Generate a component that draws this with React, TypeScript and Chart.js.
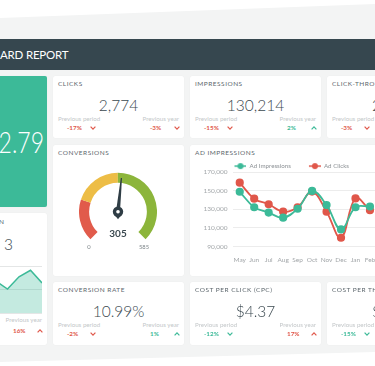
import React, { useEffect, useRef } from "react";
import { Chart, registerables } from "chart.js";

Chart.register(...registerables);

const FONT = "Lato, 'Open Sans', sans-serif";
const TEAL = "#3cba98";
const RED = "#e0574a";
const DARK = "#3b4950";

// ---- Ad impressions line chart ----
const adMonths = ["May", "Jun", "Jul", "Aug", "Sep", "Oct", "Nov", "Dec", "Jan", "Feb"];
const adImpressions = [148800, 132200, 126500, 121000, 130600, 149700, 134500, 108400, 132200, 133000];
const adClicks = [158600, 141400, 135400, 127400, 132200, 149000, 127400, 99500, 141700, 129000];
const adAxisMin = 90000;
const adAxisMax = 170000;
const adAxisStep = 20000;

// ---- Conversions gauge ----
const gaugeBandLabels = ["Low", "Medium", "High"];
const gaugeBands = [137, 155, 293];
const gaugeColors = ["#e15b4b", "#edbd46", "#8cb53b"];
const gaugeValue = 305;
const gaugeMin = 0;
const gaugeMax = 585;

// ---- Small trend (left card) ----
const trendLabels = ["P1", "P2", "P3", "P4", "P5"];
const trendValues = [68, 51, 77, 91, 64];

type Txt = {
  x: number;
  y: number;
  text: string;
  size: number;
  color: string;
  weight?: number;
  align?: "left" | "right" | "center";
  ls?: number;
  sy?: number;
};

function T({ x, y, text, size, color, weight = 400, align = "left", ls = 0, sy = 1 }: Txt) {
  const tx = align === "left" ? "0" : align === "right" ? "-100%" : "-50%";
  return (
    <div
      style={{
        position: "absolute",
        left: x,
        top: y,
        transform: `translate(${tx}, -50%) scaleY(${sy})`,
        fontFamily: FONT,
        fontSize: size,
        fontWeight: weight,
        color,
        letterSpacing: ls,
        lineHeight: 1,
        whiteSpace: "nowrap",
      }}
    >
      {text}
    </div>
  );
}

function Chevron({ x, y, dir, color }: { x: number; y: number; dir: "up" | "down"; color: string }) {
  const pts = dir === "down" ? "0.6,0.7 3,3.2 5.4,0.7" : "0.6,3.3 3,0.8 5.4,3.3";
  return (
    <svg
      width={6}
      height={4}
      style={{ position: "absolute", left: x - 3, top: y - 2, overflow: "visible" }}
    >
      <polyline points={pts} fill="none" stroke={color} strokeWidth={1.2} />
    </svg>
  );
}

type Delta = { pct: string; color: string; dir: "up" | "down" };

function Card({
  x,
  y,
  w,
  h,
  bg = "#ffffff",
  children,
}: {
  x: number;
  y: number;
  w: number;
  h: number;
  bg?: string;
  children?: React.ReactNode;
}) {
  return (
    <div
      style={{
        position: "absolute",
        left: x,
        top: y,
        width: w,
        height: h,
        background: bg,
        borderRadius: 2,
        boxShadow: "0 0 1px rgba(0,0,0,0.08)",
      }}
    >
      {children}
    </div>
  );
}

const TITLE_C = "#5d676d";
const PREV_C = "#c3c7c9";

function Kpi({
  x,
  y,
  h,
  title,
  value,
  valueX,
  left,
  right,
}: {
  x: number;
  y: number;
  h: number;
  title: string;
  value: string;
  valueX?: number;
  left?: Delta;
  right?: Delta;
}) {
  const w = 131;
  return (
    <Card x={x} y={y} w={w} h={h}>
      <T x={5} y={8} text={title} size={6.5} color={TITLE_C} ls={0.5} />
      {valueX === undefined ? (
        <T x={w / 2} y={30} text={value} size={15.5} color={DARK} weight={300} align="center" />
      ) : (
        <T x={valueX} y={30} text={value} size={15.5} color={DARK} weight={300} />
      )}
      <T x={5} y={43} text="Previous period" size={6.2} color={PREV_C} />
      <T x={126} y={43} text="Previous year" size={6.2} color={PREV_C} align="right" />
      {left && (
        <>
          <T x={14} y={52} text={left.pct} size={6.3} color={left.color} weight={700} />
          <Chevron x={40} y={52} dir={left.dir} color={left.color} />
        </>
      )}
      {right && (
        <>
          <T x={97} y={52} text={right.pct} size={6.3} color={right.color} weight={700} />
          <Chevron x={124} y={52} dir={right.dir} color={right.color} />
        </>
      )}
    </Card>
  );
}

function makeMarker(color: string) {
  const c = document.createElement("canvas");
  c.width = 26;
  c.height = 8;
  const g = c.getContext("2d")!;
  g.strokeStyle = color;
  g.lineWidth = 1.5;
  g.beginPath();
  g.moveTo(14, 4);
  g.lineTo(26, 4);
  g.stroke();
  g.fillStyle = color;
  g.beginPath();
  g.arc(20, 4, 3, 0, Math.PI * 2);
  g.fill();
  return c;
}

function AdChart() {
  const ref = useRef<HTMLCanvasElement>(null);
  useEffect(() => {
    const markers = [makeMarker(TEAL), makeMarker(RED)];
    const tickFont = { family: FONT, size: 6.5 };
    const chart = new Chart(ref.current!, {
      type: "line",
      data: {
        labels: adMonths,
        datasets: [
          {
            label: "Ad Impressions",
            data: adImpressions,
            borderColor: TEAL,
            backgroundColor: TEAL,
            pointBackgroundColor: TEAL,
            pointBorderColor: TEAL,
            pointRadius: 3.2,
            borderWidth: 1.8,
            tension: 0.4,
            fill: false,
          },
          {
            label: "Ad Clicks",
            data: adClicks,
            borderColor: RED,
            backgroundColor: RED,
            pointBackgroundColor: RED,
            pointBorderColor: RED,
            pointRadius: 3.2,
            borderWidth: 1.8,
            tension: 0.4,
            fill: false,
          },
        ],
      },
      options: {
        responsive: false,
        animation: false,
        events: [],
        layout: { padding: { left: 0, right: 0.5, top: 0, bottom: 3.6 } },
        plugins: {
          tooltip: { enabled: false },
          legend: {
            position: "top",
            maxHeight: 13,
            labels: {
              usePointStyle: true,
              pointStyleWidth: 26,
              padding: 4,
              color: "#8b9094",
              font: { family: FONT, size: 6.2 },
              generateLabels: (ch: any) =>
                (Chart.defaults.plugins.legend.labels as any)
                  .generateLabels(ch)
                  .map((l: any, i: number) => ({ ...l, pointStyle: markers[i] })),
            },
          },
        },
        scales: {
          x: {
            offset: true,
            grid: { display: false },
            border: { display: false },
            ticks: { color: "#a3a7aa", font: tickFont, padding: 1.5, maxRotation: 0, autoSkip: false },
          },
          y: {
            min: adAxisMin,
            max: adAxisMax,
            ticks: { stepSize: adAxisStep, color: "#a3a7aa", font: tickFont, padding: 5 },
            grid: { color: "#ececec", drawTicks: false },
            border: { display: false },
            afterFit: (s: any) => {
              s.width = 45.5;
            },
          },
        },
      },
    });
    return () => chart.destroy();
  }, []);
  return (
    <canvas
      ref={ref}
      width={196}
      height={110}
      style={{ position: "absolute", left: 187, top: 159, width: 196, height: 110 }}
    />
  );
}

const needlePlugin = {
  id: "needle",
  afterDatasetsDraw(chart: any) {
    const arcs = chart.getDatasetMeta(0).data as any[];
    if (!arcs.length) return;
    const first = arcs[0];
    const last = arcs[arcs.length - 1];
    const start = first.startAngle;
    const end = last.endAngle;
    const frac = (gaugeValue - gaugeMin) / (gaugeMax - gaugeMin);
    const ang = start + frac * (end - start);
    const cx = first.x;
    const cy = first.y;
    const len = first.innerRadius + 5;
    const ctx = chart.ctx as CanvasRenderingContext2D;
    const ux = Math.cos(ang);
    const uy = Math.sin(ang);
    const px = -uy;
    const py = ux;
    ctx.save();
    ctx.fillStyle = "#2f3d45";
    ctx.beginPath();
    ctx.moveTo(cx + px * 2, cy + py * 2);
    ctx.lineTo(cx + ux * len + px * 0.6, cy + uy * len + py * 0.6);
    ctx.lineTo(cx + ux * len - px * 0.6, cy + uy * len - py * 0.6);
    ctx.lineTo(cx - px * 2, cy - py * 2);
    ctx.closePath();
    ctx.fill();
    ctx.beginPath();
    ctx.arc(cx, cy, 5.2, 0, Math.PI * 2);
    ctx.fill();
    ctx.beginPath();
    ctx.moveTo(cx - 2.5, cy + 4.2);
    ctx.lineTo(cx, cy + 7.5);
    ctx.lineTo(cx + 2.5, cy + 4.2);
    ctx.fill();
    ctx.fillStyle = "#ffffff";
    ctx.beginPath();
    ctx.arc(cx, cy, 1.8, 0, Math.PI * 2);
    ctx.fill();
    ctx.restore();
  },
};

function Gauge() {
  const ref = useRef<HTMLCanvasElement>(null);
  useEffect(() => {
    const chart = new Chart(ref.current!, {
      type: "doughnut",
      data: {
        labels: gaugeBandLabels,
        datasets: [{ data: gaugeBands, backgroundColor: gaugeColors, borderWidth: 0 }],
      },
      options: {
        responsive: false,
        animation: false,
        events: [],
        rotation: -135,
        circumference: 270,
        cutout: "74%",
        plugins: { legend: { display: false }, tooltip: { enabled: false } },
      },
      plugins: [needlePlugin],
    });
    return () => chart.destroy();
  }, []);
  return (
    <canvas
      ref={ref}
      width={78}
      height={70}
      style={{ position: "absolute", left: 79, top: 171, width: 78, height: 70 }}
    />
  );
}

function Trend() {
  const ref = useRef<HTMLCanvasElement>(null);
  useEffect(() => {
    const chart = new Chart(ref.current!, {
      type: "line",
      data: {
        labels: trendLabels,
        datasets: [
          {
            data: trendValues,
            borderColor: TEAL,
            backgroundColor: "rgba(60,186,152,0.3)",
            borderWidth: 1.5,
            pointRadius: 0,
            tension: 0,
            fill: "origin",
          },
        ],
      },
      options: {
        responsive: false,
        animation: false,
        events: [],
        layout: { padding: { top: 1, bottom: 1, left: 0, right: 0 } },
        plugins: { legend: { display: false }, tooltip: { enabled: false } },
        scales: {
          x: { display: false },
          y: {
            min: 0,
            max: 100,
            ticks: { display: false, stepSize: 50 },
            grid: { color: "#e4e6e6", drawTicks: false },
            border: { display: false },
            afterFit: (s: any) => {
              s.width = 0;
            },
          },
        },
      },
    });
    return () => chart.destroy();
  }, []);
  return (
    <canvas
      ref={ref}
      width={46}
      height={49}
      style={{ position: "absolute", left: -4, top: 265, width: 46, height: 49 }}
    />
  );
}

export default function App() {
  return (
    <div
      style={{
        position: "fixed",
        left: 0,
        top: 0,
        width: 375,
        height: 366,
        overflow: "hidden",
        background: "#ffffff",
      }}
    >
      <div
        style={{
          position: "absolute",
          inset: 0,
          background: "#f3f4f4",
          clipPath: "polygon(0px 18px, 375px 4px, 375px 352px, 0px 362px)",
        }}
      />
      <div
        style={{
          position: "absolute",
          left: 0,
          top: 39,
          width: 375,
          height: 31,
          background: "#36474f",
        }}
      />
      <T x={0} y={54.5} text="ARD REPORT" size={11.5} color="#ffffff" ls={-0.2} />

      {/* left column */}
      <Card x={-84} y={76} w={131} h={131} bg="#3cba98" />
      <T x={44} y={142} text="2.79" size={23} color="#ffffff" weight={300} align="right" sy={1.3} />

      <Card x={-84} y={213} w={131} h={132}>
        <T x={126} y={107} text="Previous year" size={6.2} color={PREV_C} align="right" />
        <T x={97} y={118} text="16%" size={6.3} color={RED} weight={700} />
        <Chevron x={124} y={118} dir="up" color={RED} />
      </Card>
      <T x={4.5} y={222} text="CONVERSION" size={6.5} color={TITLE_C} ls={0.5} align="right" />
      <T x={13} y={245} text="3" size={15.5} color={DARK} weight={300} align="right" />
      <Trend />

      {/* row 1 */}
      <Kpi
        x={53}
        y={76}
        h={62}
        title="CLICKS"
        value="2,774"
        left={{ pct: "-17%", color: RED, dir: "down" }}
        right={{ pct: "-3%", color: RED, dir: "down" }}
      />
      <Kpi
        x={190}
        y={76}
        h={62}
        title="IMPRESSIONS"
        value="130,214"
        left={{ pct: "-15%", color: RED, dir: "down" }}
        right={{ pct: "2%", color: TEAL, dir: "up" }}
      />
      <Kpi
        x={327}
        y={76}
        h={62}
        title="CLICK-THROUGH RATE"
        value="2"
        valueX={45}
        left={{ pct: "-3%", color: RED, dir: "down" }}
      />

      {/* row 2 */}
      <Card x={53} y={145} w={131} h={131}>
        <T x={5} y={8} text="CONVERSIONS" size={6.5} color={TITLE_C} ls={0.5} />
      </Card>
      <Gauge />
      <T x={118} y={233} text={String(gaugeValue)} size={10} color={DARK} weight={700} align="center" />
      <T x={89} y={247} text={String(gaugeMin)} size={5.8} color="#7d8589" align="center" />
      <T x={144} y={247} text={String(gaugeMax)} size={5.8} color="#7d8589" align="center" />

      <Card x={190} y={145} w={260} h={131}>
        <T x={5} y={8} text="AD IMPRESSIONS" size={6.5} color={TITLE_C} ls={0.5} />
      </Card>
      <AdChart />

      {/* row 3 */}
      <Kpi
        x={53}
        y={282}
        h={63}
        title="CONVERSION RATE"
        value="10.99%"
        left={{ pct: "-2%", color: RED, dir: "down" }}
        right={{ pct: "1%", color: TEAL, dir: "up" }}
      />
      <Kpi
        x={190}
        y={282}
        h={63}
        title="COST PER CLICK (CPC)"
        value="$4.37"
        left={{ pct: "-12%", color: TEAL, dir: "down" }}
        right={{ pct: "17%", color: RED, dir: "up" }}
      />
      <Kpi
        x={327}
        y={282}
        h={63}
        title="COST PER THOUSAND IMPRESSIONS"
        value="$"
        valueX={45}
        left={{ pct: "-15%", color: TEAL, dir: "down" }}
      />
    </div>
  );
}
